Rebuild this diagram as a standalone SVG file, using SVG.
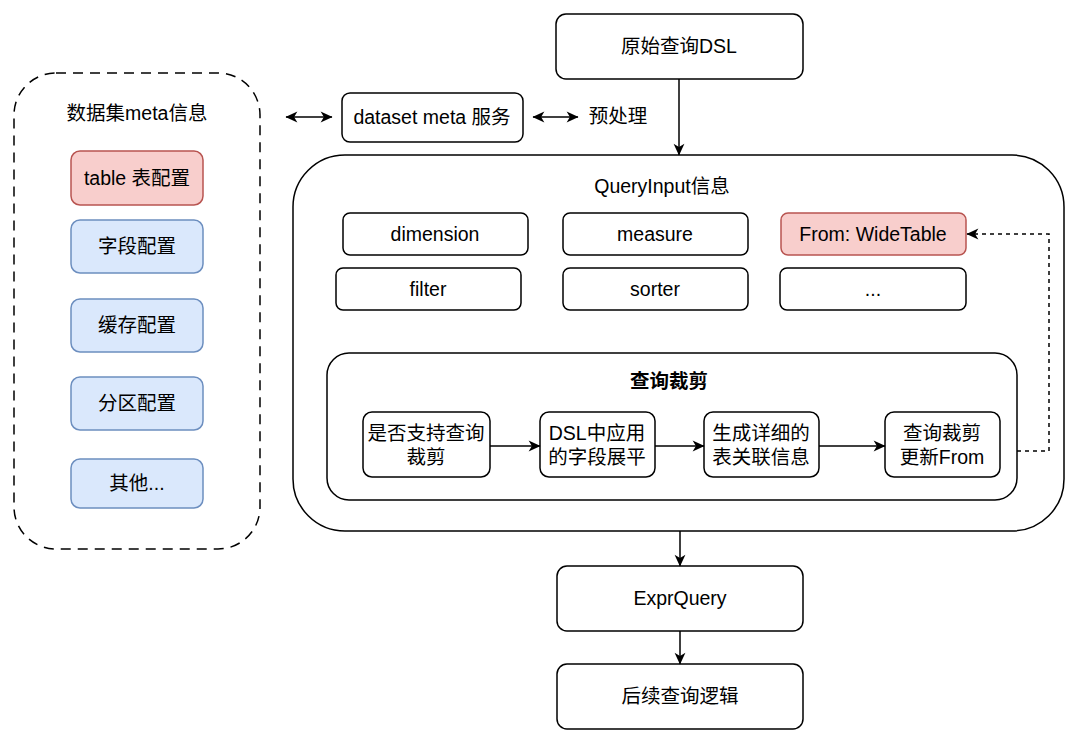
<svg xmlns="http://www.w3.org/2000/svg" width="1080" height="746" viewBox="0 0 1080 746">
<defs>
<marker id="arr" viewBox="0 0 12 12" refX="11.5" refY="6" markerWidth="13" markerHeight="13" markerUnits="userSpaceOnUse" orient="auto-start-reverse">
<path d="M1,1 L12,6 L1,11 L4,6 z" fill="#000"/>
</marker>
<style>
text{font-family:"Liberation Sans","Noto Sans CJK SC",Arial,sans-serif;font-size:19.5px;fill:#000;text-anchor:middle;dominant-baseline:central}
.box{fill:#fff;stroke:#000;stroke-width:1.5}
.red{fill:#f8cecc;stroke:#b85450;stroke-width:1.5}
.blue{fill:#dae8fc;stroke:#6c8ebf;stroke-width:1.5}
.edge{fill:none;stroke:#000;stroke-width:1.5}
.b{font-weight:bold}
</style>
</defs>
<rect width="1080" height="746" fill="#fff"/>

<g id="meta-container">
<rect x="14" y="73" width="246" height="476" rx="42" fill="none" stroke="#000" stroke-width="1.5" stroke-dasharray="10 7"/>
<text x="137" y="113">数据集meta信息</text>
</g>
<g id="table-config"><rect class="red" x="71" y="151" width="132" height="54" rx="9"/><text x="137" y="178">table 表配置</text></g>
<g id="field-config"><rect class="blue" x="71" y="220" width="132" height="53" rx="9"/><text x="137" y="246">字段配置</text></g>
<g id="cache-config"><rect class="blue" x="71" y="299" width="132" height="53" rx="9"/><text x="137" y="325">缓存配置</text></g>
<g id="partition-config"><rect class="blue" x="71" y="377" width="132" height="53" rx="9"/><text x="137" y="403">分区配置</text></g>
<g id="other-config"><rect class="blue" x="71" y="459" width="132" height="49" rx="9"/><text x="137" y="483">其他...</text></g>

<g id="dataset-meta"><rect class="box" x="342" y="93" width="181" height="49" rx="8"/><text x="432" y="117">dataset meta 服务</text></g>
<g id="preprocess"><text x="618" y="116">预处理</text></g>
<g id="raw-dsl"><rect class="box" x="556" y="14" width="247" height="65" rx="10"/><text x="679" y="46">原始查询DSL</text></g>

<g id="queryinput">
<rect class="box" x="293" y="155" width="771" height="376" rx="52"/>
<text x="662" y="186">QueryInput信息</text>
</g>
<g id="dimension"><rect class="box" x="343" y="213" width="185" height="42" rx="7"/><text x="435" y="234">dimension</text></g>
<g id="measure"><rect class="box" x="563" y="213" width="185" height="42" rx="7"/><text x="655" y="234">measure</text></g>
<g id="from"><rect class="red" x="781" y="213" width="185" height="42" rx="7"/><text x="873" y="234">From: WideTable</text></g>
<g id="filter"><rect class="box" x="336" y="268" width="185" height="42" rx="7"/><text x="428" y="289">filter</text></g>
<g id="sorter"><rect class="box" x="563" y="268" width="185" height="42" rx="7"/><text x="655" y="289">sorter</text></g>
<g id="etc"><rect class="box" x="780" y="268" width="186" height="42" rx="7"/><text x="873" y="289">...</text></g>

<g id="pruning">
<rect class="box" x="327" y="353" width="690" height="147" rx="22"/>
<text class="b" x="669" y="381">查询裁剪</text>
</g>
<g id="step1"><rect class="box" x="363" y="412" width="127" height="65" rx="9"/><text x="426" y="433">是否支持查询</text><text x="426" y="457">裁剪</text></g>
<g id="step2"><rect class="box" x="540" y="412" width="115" height="65" rx="9"/><text x="597" y="433">DSL中应用</text><text x="597" y="457">的字段展平</text></g>
<g id="step3"><rect class="box" x="704" y="412" width="115" height="65" rx="9"/><text x="761" y="433">生成详细的</text><text x="761" y="457">表关联信息</text></g>
<g id="step4"><rect class="box" x="885" y="412" width="115" height="65" rx="9"/><text x="942" y="433">查询裁剪</text><text x="942" y="457">更新From</text></g>

<g id="exprquery"><rect class="box" x="557" y="566" width="246" height="65" rx="10"/><text x="680" y="598">ExprQuery</text></g>
<g id="later"><rect class="box" x="557" y="664" width="246" height="65" rx="10"/><text x="680" y="696">后续查询逻辑</text></g>

<g id="connectors">
<line class="edge" x1="286" y1="117" x2="332" y2="117" marker-start="url(#arr)" marker-end="url(#arr)"/>
<line class="edge" x1="533" y1="117" x2="578" y2="117" marker-start="url(#arr)" marker-end="url(#arr)"/>
<line class="edge" x1="679" y1="79" x2="679" y2="155" marker-end="url(#arr)"/>
<line class="edge" x1="490" y1="446" x2="540" y2="446" marker-end="url(#arr)"/>
<line class="edge" x1="655" y1="446" x2="704" y2="446" marker-end="url(#arr)"/>
<line class="edge" x1="819" y1="446" x2="885" y2="446" marker-end="url(#arr)"/>
<path class="edge" d="M1017,451 H1049 V234 H967" stroke-dasharray="4 4" marker-end="url(#arr)"/>
<line class="edge" x1="680" y1="531" x2="680" y2="566" marker-end="url(#arr)"/>
<line class="edge" x1="680" y1="631" x2="680" y2="664" marker-end="url(#arr)"/>
</g>
</svg>
